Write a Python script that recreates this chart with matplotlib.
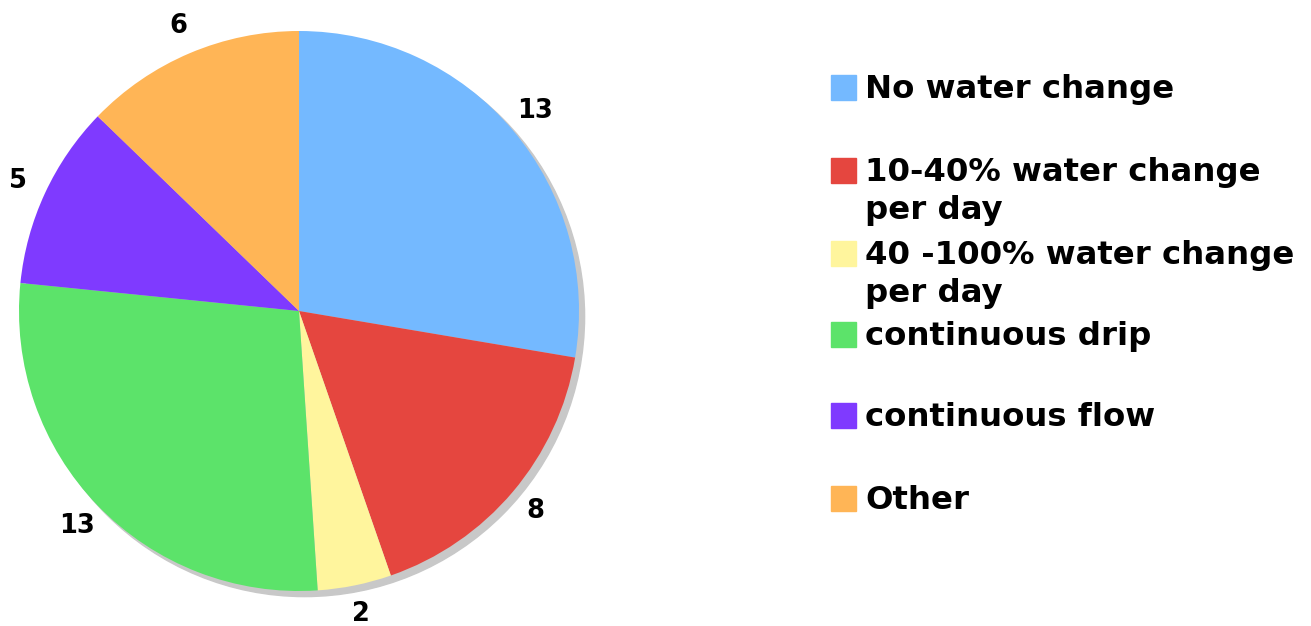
import matplotlib
matplotlib.use("Agg")
import matplotlib.pyplot as plt
from matplotlib.patches import Circle

categories = ["No water change", "10-40% water change\nper day", "40 -100% water change\nper day",
              "continuous drip", "continuous flow", "Other"]
values = [13, 8, 2, 13, 5, 6]
colors = ["#74b9ff", "#e5463f", "#fff59d", "#5ce36a", "#7f3aff", "#ffb556"]

W, H = 1311, 626
fig = plt.figure(figsize=(W / 100, H / 100), dpi=100)
cx, cy, r = 299, 311, 280
ax = fig.add_axes([(cx - r) / W, (H - cy - r) / H, 2 * r / W, 2 * r / H])
ax.set_xlim(-1, 1)
ax.set_ylim(-1, 1)
ax.set_aspect("equal")
ax.axis("off")

shadow = Circle((0.02, -0.02), 1.0, color="#c8c8c8", zorder=0)
shadow.set_clip_on(False)
ax.add_patch(shadow)
wedges, texts = ax.pie(values, colors=colors, startangle=90, counterclock=False,
                       labels=[str(v) for v in values], labeldistance=1.105,
                       wedgeprops=dict(linewidth=0), radius=1.0,
                       textprops=dict(fontsize=18.5, fontweight="bold", family="DejaVu Sans"))
for w in wedges:
    w.set_clip_on(False)
for t in texts:
    t.set_ha("center")
    t.set_va("center")
    t.set_clip_on(False)
ax.set_xlim(-1, 1)
ax.set_ylim(-1, 1)

# legend
tops = [75, 158, 241, 322, 403, 486]
for cat, col, top in zip(categories, colors, tops):
    fig.patches.append(plt.Rectangle((831 / W, (H - top - 25) / H), 25 / W, 25 / H,
                                     transform=fig.transFigure, color=col, figure=fig))
    fig.text(865 / W, (H - top + 1) / H, cat, fontsize=23.3, fontweight="bold",
             family="DejaVu Sans", va="top", ha="left", linespacing=1.3)

fig.savefig("out.png", dpi=100)
